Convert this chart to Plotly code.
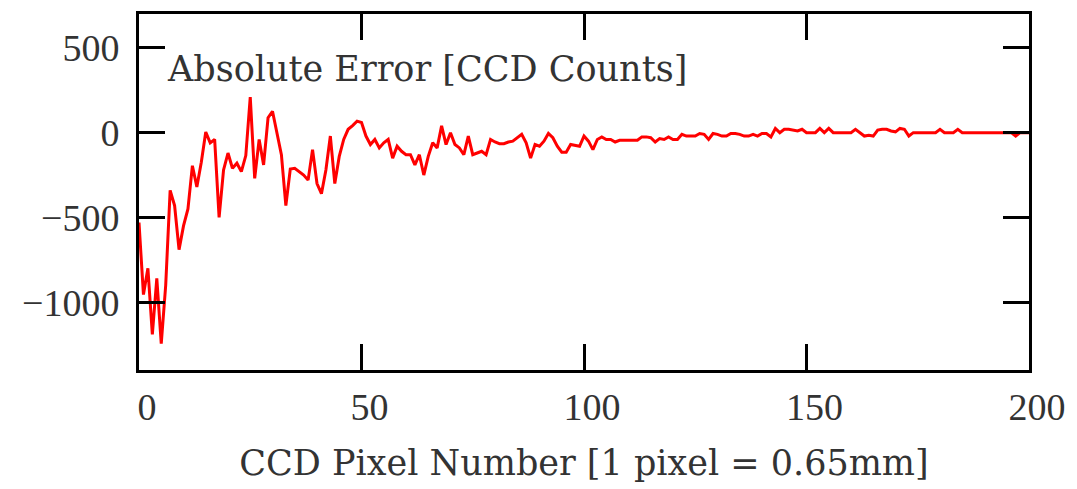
import plotly.graph_objects as go

pixel = list(range(0, 201))

error_0_49 = [-530, -955, -800, -1190, -860, -1245, -900, -340, -430, -690,
              -550, -450, -195, -320, -175, 4, -60, -40, -500, -220,
              -120, -210, -180, -230, -135, 210, -270, -40, -190, 88,
              126, 0, -130, -430, -215, -210, -230, -250, -280, -100,
              -300, -360, -220, -20, -300, -140, -40, 20, 42, 68]
error_50_99 = [60, -20, -70, -40, -90, -60, -40, -150, -80, -110,
               -130, -130, -190, -130, -250, -140, -60, -90, 40, -70,
               0, -70, -90, -130, -20, -130, -120, -110, -130, -40,
               -55, -65, -65, -55, -50, -30, -10, -60, -150, -70,
               -80, -50, -5, -30, -80, -115, -115, -70, -75, -80]
error_100_149 = [-20, -50, -100, -40, -25, -40, -40, -55, -45, -45,
                 -45, -45, -45, -25, -25, -30, -55, -35, -40, -25,
                 -40, -40, -10, -20, -20, -20, -5, -10, -40, -5,
                 -10, -20, -20, -5, -5, -10, -20, -20, -10, -20,
                 -5, -5, -25, 25, 0, 20, 20, 15, 10, 20]
error_150_200 = [0, 0, 0, 25, 0, 25, 0, 0, 0, 0,
                 0, 20, 0, -20, -15, -20, 15, 20, 20, 10,
                 5, 25, 20, -20, 0, 0, 0, 0, 0, 0,
                 20, 0, 0, 0, 20, 0, 0, 0, 0, 0,
                 0, 0, 0, 0, 0, 0, 0, -20, 0, 0, 0]
abs_error = error_0_49 + error_50_99 + error_100_149 + error_150_200

x_ticks = [0, 50, 100, 150, 200]
y_ticks = [500, 0, -500, -1000]

FONT = "Liberation Serif"
TFONT = "DejaVu Serif"
TXT = "#333333"

fig = go.Figure()
fig.add_trace(go.Scatter(x=pixel, y=abs_error, mode="lines",
                         line=dict(color="#ff0000", width=3),
                         showlegend=False))

axis_common = dict(showline=True, linecolor="black", linewidth=3, mirror="allticks",
                   ticks="inside", ticklen=26, tickwidth=3, tickcolor="black",
                   showgrid=False, zeroline=False,
                   tickfont=dict(family=FONT, size=38, color=TXT))

fig.update_layout(
    width=1077, height=489,
    margin=dict(l=139, r=43, t=11, b=119),
    plot_bgcolor="white", paper_bgcolor="white",
    xaxis=dict(range=[0, 200], tickvals=x_ticks, ticklabelstandoff=1,
               ticklabelshift=8,
               title=dict(text="CCD Pixel Number [1 pixel = 0.65mm]",
                          font=dict(family=TFONT, size=35, color=TXT), standoff=24),
               **axis_common),
    yaxis=dict(range=[-1400, 700], tickvals=y_ticks, ticklabelstandoff=9,
               **axis_common),
    annotations=[dict(text="Absolute Error [CCD Counts]", xref="paper", yref="paper",
                      x=0.029, y=0.845, xanchor="left", yanchor="middle", showarrow=False,
                      font=dict(family=TFONT, size=35, color=TXT))],
)

fig.write_html("out.html")
